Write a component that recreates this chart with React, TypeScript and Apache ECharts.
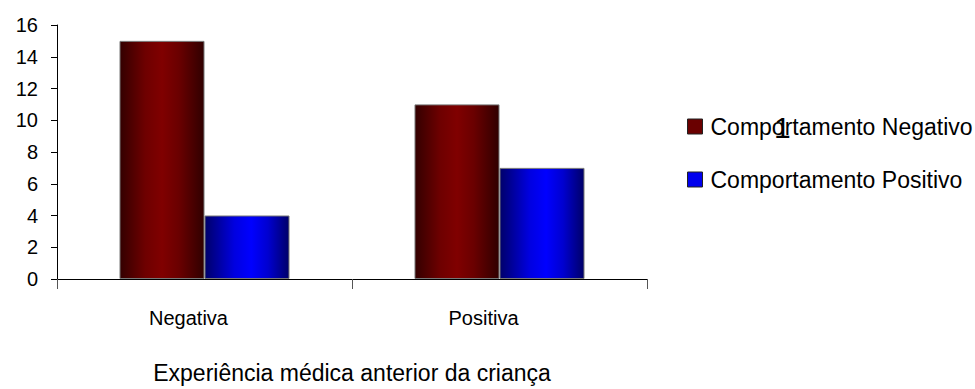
import React, { useEffect, useRef } from "react";
import * as echarts from "echarts";

// Categories, series values and axis settings
const categories = ["Negativa", "Positiva"];
const seriesNames = ["Comportamento Negativo", "Comportamento Positivo"];
const negativeValues = [15, 11];
const positiveValues = [4, 7];
const yMin = 0;
const yMax = 16;
const yStep = 2;
const xAxisTitle = "Experiência médica anterior da criança";

const FONT = "'Liberation Sans', Arial, sans-serif";

const redGradient = new echarts.graphic.LinearGradient(0, 0, 1, 0, [
  { offset: 0, color: "#330000" },
  { offset: 0.3, color: "#6e0000" },
  { offset: 0.5, color: "#800000" },
  { offset: 0.7, color: "#6a0000" },
  { offset: 1, color: "#300000" },
]);

const blueGradient = new echarts.graphic.LinearGradient(0, 0, 1, 0, [
  { offset: 0, color: "#00006a" },
  { offset: 0.35, color: "#0000e0" },
  { offset: 0.55, color: "#0000ff" },
  { offset: 0.75, color: "#0000d0" },
  { offset: 1, color: "#000068" },
]);

export default function App() {
  const ref = useRef<HTMLDivElement>(null);

  useEffect(() => {
    if (!ref.current) return;
    const chart = echarts.init(ref.current, null, { renderer: "svg" });
    chart.setOption({
      animation: false,
      backgroundColor: "#ffffff",
      textStyle: { fontFamily: FONT },
      grid: { left: 57, right: 328, top: 25, bottom: 105, containLabel: false },
      legend: {
        orient: "vertical",
        left: 682,
        top: 110,
        icon: "rect",
        itemWidth: 15,
        itemHeight: 15,
        itemGap: 30,
        selectedMode: false,
        textStyle: { fontFamily: FONT, fontSize: 23, color: "#000", padding: [0, 0, 0, 3] },
        data: [
          { name: seriesNames[0], itemStyle: { color: "#6a0000", borderColor: "#222", borderWidth: 1 } },
          { name: seriesNames[1], itemStyle: { color: "#0000ee", borderColor: "#222", borderWidth: 1 } },
        ],
      },
      xAxis: {
        type: "category",
        data: categories,
        boundaryGap: true,
        axisLine: { show: true, lineStyle: { color: "#000", width: 1 } },
        axisTick: { show: true, length: 10, inside: false, alignWithLabel: false, lineStyle: { color: "#555" } },
        axisLabel: {
          color: "#000",
          fontSize: 20,
          fontFamily: FONT,
          margin: 29,
          padding: [0, 32, 0, 0],
        },
        name: xAxisTitle,
        nameLocation: "middle",
        nameGap: 82,
        nameTextStyle: { color: "#000", fontSize: 23, fontFamily: FONT },
      },
      yAxis: {
        type: "value",
        min: yMin,
        max: yMax,
        interval: yStep,
        splitLine: { show: false },
        axisLine: { show: true, lineStyle: { color: "#000", width: 1 } },
        axisTick: { show: true, length: 6, inside: false, lineStyle: { color: "#000" } },
        axisLabel: { color: "#000", fontSize: 20, fontFamily: FONT, margin: 19 },
      },
      series: [
        {
          name: seriesNames[0],
          type: "bar",
          data: negativeValues,
          barWidth: 85,
          barGap: "0%",
          itemStyle: { color: redGradient, borderColor: "#777", borderWidth: 1 },
        },
        {
          name: seriesNames[1],
          type: "bar",
          data: positiveValues,
          barWidth: 85,
          barGap: "0%",
          itemStyle: { color: blueGradient, borderColor: "#777", borderWidth: 1 },
        },
      ],
      graphic: [
        {
          type: "text",
          left: 774,
          top: 112,
          style: { text: "1", fontFamily: FONT, fontSize: 30, fill: "#000" },
          silent: true,
        },
      ],
    });
    return () => chart.dispose();
  }, []);

  return (
    <div
      ref={ref}
      style={{ position: "fixed", left: 0, top: 0, width: 975, height: 389 }}
    />
  );
}
